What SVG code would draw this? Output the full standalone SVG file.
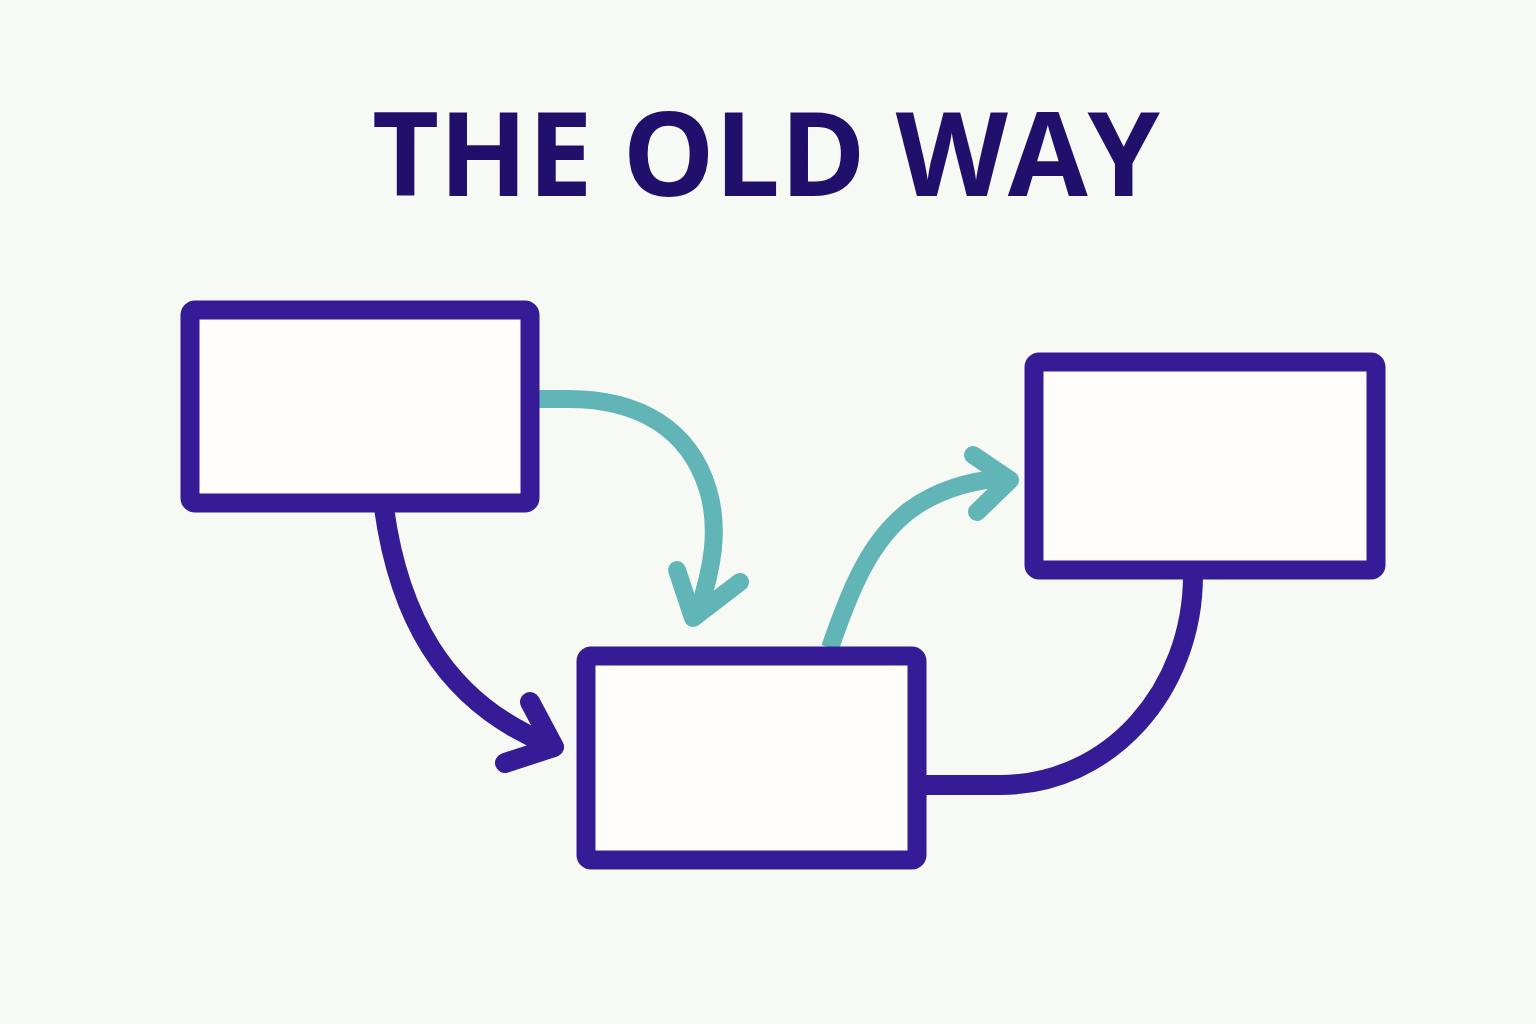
<svg xmlns="http://www.w3.org/2000/svg" width="1536" height="1024" viewBox="0 0 1536 1024">
<style>
.box{fill:#fefdf9;stroke:#351c96;stroke-width:19;}
.pc{fill:none;stroke:#351c96;stroke-width:20;stroke-linecap:round;stroke-linejoin:round;}
.tc{fill:none;stroke:#62b5b6;stroke-width:18;stroke-linecap:round;stroke-linejoin:round;}
.title{font-family:"Open Sans","Liberation Sans",sans-serif;font-weight:700;font-size:116px;fill:#21106b;}
</style>
<rect width="1536" height="1024" fill="#f7f9f5"/>
<text class="title" x="766" y="196" text-anchor="middle" textLength="788">THE OLD WAY</text>
<g id="connectors">
<path class="tc" style="stroke-linecap:butt" d="M538,399 L565,399 C640,398 690,430 708,490 C720,530 712,570 698,612"/>
<polyline class="tc" points="677,570 693,618 740,582"/>
<path class="tc" style="stroke-linecap:butt" d="M830,648 C850,590 870,540 910,510 C940,488 975,480 1006,478"/>
<polyline class="tc" points="973,455 1010,480 977,512"/>
<path class="pc" style="stroke-linecap:butt" d="M384,508 C398,610 440,700 548,744"/>
<polyline class="pc" points="530,702 554,747 505,763"/>
<path class="pc" style="stroke-linecap:butt" d="M920,785 L1000,785 C1110,785 1193,690 1193,575"/>
</g>
<g id="node1"><rect class="box" x="190" y="310" width="340" height="193" rx="5"/></g>
<g id="node2"><rect class="box" x="586" y="656" width="331" height="204" rx="5"/></g>
<g id="node3"><rect class="box" x="1034" y="362" width="342" height="208" rx="5"/></g>
</svg>
